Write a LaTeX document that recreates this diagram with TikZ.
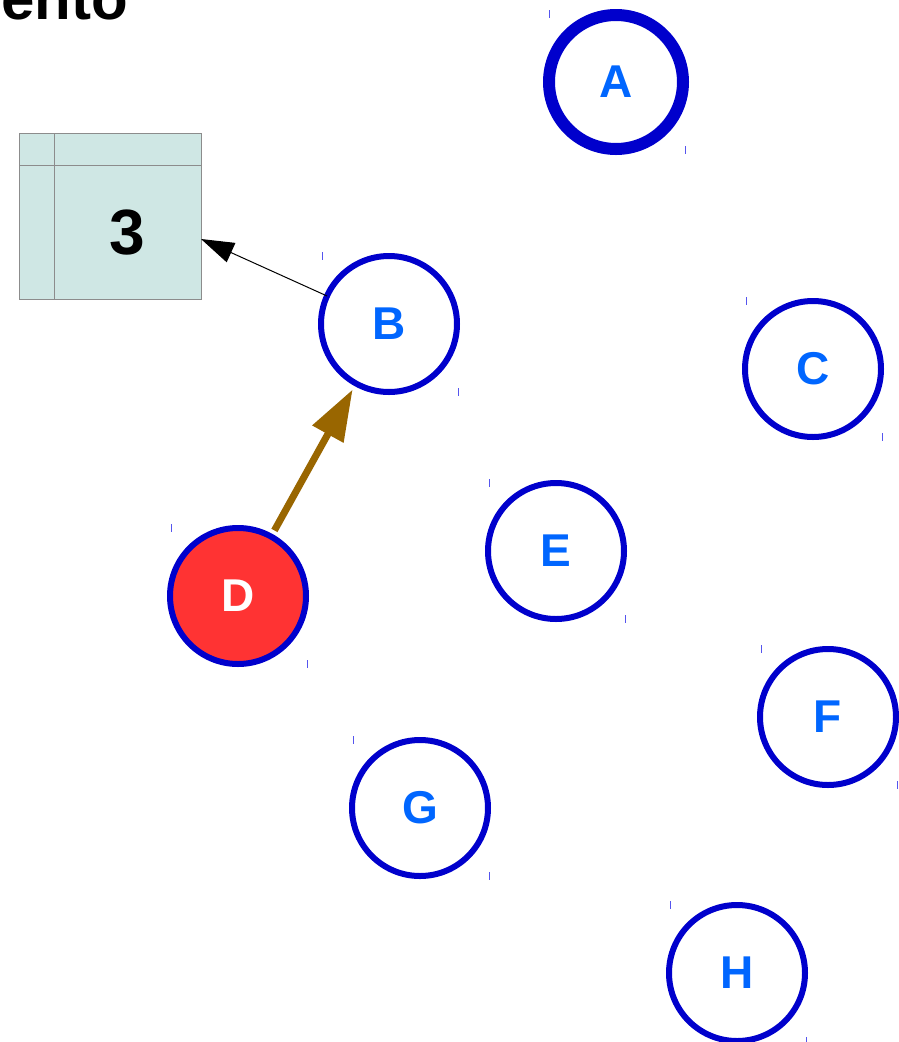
\documentclass[tikz,border=0pt]{standalone}
\usepackage{fontspec}
\setmainfont{Liberation Sans}
\usetikzlibrary{arrows.meta,calc}
\definecolor{ringblue}{HTML}{0000CC}
\definecolor{labelblue}{HTML}{0066FF}
\definecolor{hotred}{HTML}{FF3333}
\definecolor{tickblue}{HTML}{5555EE}
\definecolor{cellfill}{HTML}{CFE7E4}
\definecolor{cellline}{HTML}{8C8C8C}
\definecolor{moveBrown}{HTML}{996600}
\tikzset{
  vertex/.style={circle, draw=ringblue, line width=6pt, fill=white,
    minimum size=136pt, inner sep=0pt, outer sep=0pt,
    text=labelblue, font=\fontsize{46}{46}\selectfont\bfseries},
  current/.style={vertex, fill=hotred, text=white},
  heavy/.style={vertex, line width=12pt, minimum size=134pt},
  corner/.style={tickblue, line width=1pt},
  pointer/.style={black, line width=1pt, -{Triangle[length=33pt,width=21pt]}},
  move/.style={moveBrown, line width=7pt, shorten <=7pt, shorten >=7pt,
    -{Triangle[length=51pt,width=34pt]}},
  cell/.style={draw=cellline, line width=1pt}
}
\begin{document}
\begin{tikzpicture}[x=1pt,y=-1pt]
  \useasboundingbox (0,0) rectangle (899,1042);
  \clip (0,0) rectangle (899,1042);

  % heading, partly above the page
  \node[anchor=base east, inner sep=0pt, font=\fontsize{60}{60}\selectfont\bfseries]
    (title) at (128,19) {ento};

  % counter table
  \node[cell, fill=cellfill, minimum width=182pt, minimum height=166pt,
        inner sep=0pt, anchor=north west] (tbl) at (19,133) {};
  \draw[cell] (54,133) -- (54,299);
  \draw[cell] (19,165) -- (201,165);
  \node[font=\fontsize{64}{64}\selectfont\bfseries] (count) at (127,233) {3};
  \coordinate (tblin) at (201,239);

  % graph vertices
  \node[heavy]   (A) at (616,82)  {A};
  \node[vertex]  (B) at (389,324) {B};
  \node[vertex]  (C) at (813,369) {C};
  \node[current] (D) at (238,596) {D};
  \node[vertex]  (E) at (556,551) {E};
  \node[vertex]  (F) at (828,717) {F};
  \node[vertex]  (G) at (420,808) {G};
  \node[vertex]  (H) at (737,973) {H};

  % selection marks at the corners of each vertex
  \foreach \n in {A,B,C,D,E,F,G,H} {
    \draw[corner] ($(\n.center)+(-67,-72)$) -- ++(0,8);
    \draw[corner] ($(\n.center)+(69,64)$) -- ++(0,8);
  }

  % connectors
  \draw[pointer] (B) -- (tblin);
  \draw[move] (D) -- (B);
\end{tikzpicture}
\end{document}
